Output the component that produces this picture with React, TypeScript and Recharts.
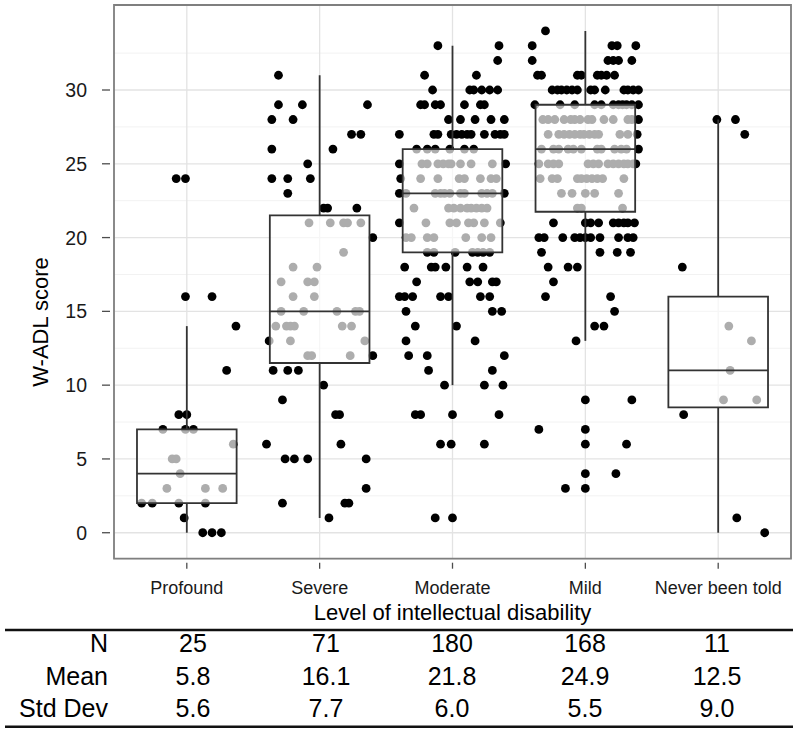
import { ComposedChart, Scatter, XAxis, YAxis, CartesianGrid, ReferenceArea, ReferenceLine } from 'recharts';

const FONT = '"Liberation Sans", Arial, Helvetica, sans-serif';

const categories = ['Profound', 'Severe', 'Moderate', 'Mild', 'Never been told'];

// each point: [jitter offset from the group position, W-ADL score]
const profoundPoints: [number, number][] = [
  [-0.08, 24], [-0.01, 24], [-0.01, 16], [0.19, 16], [0.37, 14], [0.3, 11],
  [-0.06, 8], [0.0, 8], [-0.18, 7], [-0.01, 7], [0.05, 7], [0.35, 6],
  [-0.11, 5], [-0.08, 5], [-0.05, 4], [-0.15, 3], [0.14, 3], [0.27, 3],
  [-0.34, 2], [-0.26, 2], [-0.06, 2], [0.14, 2], [-0.02, 1],
  [0.12, 0], [0.19, 0], [0.26, 0],
];

const severePoints: [number, number][] = [
  [-0.31, 31], [-0.31, 29], [-0.13, 29], [0.36, 29], [-0.36, 28], [-0.2, 28],
  [0.24, 27], [0.31, 27], [-0.36, 26], [0.1, 26], [-0.09, 25],
  [-0.36, 24], [-0.24, 24], [-0.07, 24], [-0.24, 23],
  [0.03, 22], [0.06, 22], [0.28, 22],
  [-0.08, 21], [0.08, 21], [0.18, 21], [0.21, 21], [0.31, 21],
  [0.4, 20], [0.18, 19], [-0.2, 18], [-0.02, 18],
  [-0.29, 17], [-0.09, 17], [-0.04, 17], [-0.2, 16], [-0.04, 16],
  [-0.29, 15], [-0.12, 15], [0.13, 15], [0.27, 15], [0.3, 15],
  [-0.33, 14], [-0.25, 14], [-0.22, 14], [-0.19, 14], [0.17, 14], [0.24, 14],
  [-0.38, 13], [-0.22, 13], [0.34, 13],
  [-0.09, 12], [-0.06, 12], [0.23, 12], [0.4, 12],
  [-0.35, 11], [-0.24, 11], [-0.16, 11], [0.03, 10], [-0.28, 9],
  [0.12, 8], [0.15, 8], [-0.4, 6], [0.16, 6],
  [-0.26, 5], [-0.19, 5], [-0.09, 5], [0.35, 5], [0.35, 3],
  [-0.28, 2], [0.19, 2], [0.22, 2], [0.07, 1],
];

const moderatePoints: [number, number][] = [
  [-0.11, 33], [0.35, 33], [0.34, 32], [-0.21, 31], [0.18, 31],
  [-0.15, 30], [0.13, 30], [0.16, 30], [0.22, 30], [0.28, 30], [0.34, 30],
  [-0.24, 29], [-0.21, 29], [-0.13, 29], [-0.09, 29], [0.09, 29], [0.21, 29], [0.24, 29],
  [-0.03, 28], [0.06, 28], [0.17, 28], [0.29, 28], [0.39, 28],
  [-0.4, 27], [-0.14, 27], [-0.11, 27], [-0.01, 27], [0.03, 27], [0.07, 27],
  [0.11, 27], [0.14, 27], [0.24, 27], [0.32, 27], [0.36, 27], [0.39, 27],
  [-0.27, 26], [-0.19, 26], [-0.13, 26], [-0.02, 26], [0.09, 26], [0.16, 26],
  [-0.4, 25], [-0.23, 25], [-0.19, 25], [-0.11, 25], [-0.07, 25], [-0.03, 25],
  [-0.01, 25], [0.06, 25], [0.14, 25], [0.3, 25], [0.4, 25],
  [-0.39, 24], [-0.24, 24], [-0.11, 24], [0.05, 24], [0.09, 24], [0.21, 24], [0.29, 24], [0.33, 24],
  [-0.4, 23], [-0.35, 23], [-0.13, 23], [-0.09, 23], [-0.06, 23], [-0.02, 23],
  [0.06, 23], [0.09, 23], [0.22, 23], [0.26, 23], [0.3, 23], [0.39, 23],
  [-0.29, 22], [-0.03, 22], [0.01, 22], [0.06, 22], [0.11, 22], [0.14, 22], [0.18, 22], [0.22, 22], [0.26, 22],
  [-0.4, 21], [-0.2, 21], [-0.02, 21], [0.03, 21], [0.12, 21], [0.16, 21], [0.24, 21], [0.36, 21],
  [-0.35, 20], [-0.31, 20], [-0.19, 20], [-0.14, 20], [0.1, 20], [0.22, 20], [0.29, 20],
  [-0.19, 19], [-0.14, 19], [0.02, 19], [0.15, 19], [0.19, 19], [0.23, 19], [0.28, 19],
  [-0.36, 18], [-0.16, 18], [-0.13, 18], [-0.05, 18], [0.11, 18], [0.23, 18],
  [-0.27, 17], [0.13, 17], [0.19, 17], [0.3, 17], [0.33, 17],
  [-0.4, 16], [-0.36, 16], [-0.3, 16], [-0.09, 16], [-0.03, 16], [0.21, 16], [0.28, 16],
  [-0.35, 15], [0.3, 15], [0.37, 15], [-0.28, 14], [0.03, 14],
  [-0.35, 13], [0.17, 13], [-0.33, 12], [-0.19, 12], [0.39, 12],
  [-0.18, 11], [0.3, 11], [-0.06, 10], [0.24, 10], [0.38, 10],
  [-0.28, 8], [-0.24, 8], [0.0, 8], [0.35, 8],
  [-0.09, 6], [-0.01, 6], [0.24, 6], [-0.13, 1], [0.0, 1],
];

const mildPoints: [number, number][] = [
  [-0.3, 34], [-0.4, 33], [0.2, 33], [0.24, 33], [0.38, 33],
  [-0.4, 32], [0.17, 32], [0.21, 32], [0.25, 32], [0.35, 32],
  [-0.36, 31], [-0.33, 31], [-0.06, 31], [-0.03, 31], [0.09, 31], [0.12, 31], [0.16, 31], [0.22, 31],
  [-0.25, 30], [-0.21, 30], [-0.18, 30], [-0.14, 30], [-0.1, 30], [-0.06, 30], [0.04, 30],
  [0.07, 30], [0.15, 30], [0.29, 30], [0.32, 30], [0.36, 30], [0.4, 30],
  [-0.38, 29], [-0.19, 29], [-0.08, 29], [0.07, 29], [0.12, 29], [0.21, 29],
  [0.25, 29], [0.28, 29], [0.31, 29], [0.35, 29], [0.4, 29],
  [-0.32, 28], [-0.28, 28], [-0.23, 28], [-0.16, 28], [-0.11, 28], [-0.08, 28], [-0.04, 28],
  [0.02, 28], [0.05, 28], [0.14, 28], [0.21, 28], [0.32, 28], [0.35, 28], [0.4, 28],
  [-0.28, 27], [-0.2, 27], [-0.16, 27], [-0.12, 27], [-0.08, 27], [-0.04, 27], [-0.01, 27],
  [0.03, 27], [0.07, 27], [0.1, 27], [0.26, 27], [0.32, 27], [0.39, 27],
  [-0.33, 26], [-0.24, 26], [-0.2, 26], [-0.13, 26], [-0.09, 26], [-0.03, 26],
  [0.09, 26], [0.12, 26], [0.22, 26], [0.27, 26], [0.31, 26], [0.4, 26],
  [-0.35, 25], [-0.28, 25], [-0.24, 25], [-0.2, 25], [0.02, 25], [0.06, 25], [0.1, 25],
  [0.17, 25], [0.21, 25], [0.25, 25], [0.29, 25], [0.32, 25], [0.36, 25], [0.38, 25],
  [-0.34, 24], [-0.25, 24], [-0.21, 24], [-0.06, 24], [-0.03, 24], [0.01, 24],
  [0.05, 24], [0.09, 24], [0.13, 24], [0.29, 24],
  [-0.18, 23], [-0.1, 23], [0.0, 23], [0.07, 23], [0.25, 23],
  [-0.06, 22], [-0.03, 22], [0.28, 22],
  [-0.24, 21], [0.0, 21], [0.04, 21], [0.1, 21], [0.21, 21], [0.25, 21], [0.29, 21], [0.32, 21], [0.37, 21],
  [-0.35, 20], [-0.31, 20], [-0.17, 20], [-0.08, 20], [-0.04, 20], [0.0, 20],
  [0.04, 20], [0.11, 20], [0.25, 20], [0.32, 20], [0.36, 20],
  [-0.33, 19], [0.11, 19], [0.24, 19], [0.34, 19],
  [-0.28, 18], [-0.13, 18], [-0.06, 18], [-0.24, 17], [-0.3, 16], [0.19, 16],
  [0.22, 15], [0.07, 14], [0.14, 14], [-0.07, 13],
  [0.0, 9], [0.35, 9], [-0.35, 7], [0.0, 7], [0.0, 6], [0.31, 6],
  [0.0, 4], [0.23, 4], [-0.15, 3], [0.0, 3],
];

const neverPoints: [number, number][] = [
  [-0.01, 28], [0.13, 28], [0.2, 27], [-0.27, 18], [0.08, 14], [0.25, 13],
  [0.09, 11], [0.04, 9], [0.29, 9], [-0.26, 8], [0.14, 1], [0.35, 0],
];

const groupPoints = [profoundPoints, severePoints, moderatePoints, mildPoints, neverPoints];

const boxQ1 = [2, 11.5, 19, 21.75, 8.5];
const boxMedian = [4, 15, 23, 26, 11];
const boxQ3 = [7, 21.5, 26, 29, 16];
const whiskerLow = [0, 1, 10, 13, 0];
const whiskerHigh = [14, 31, 33, 34, 28];

const yTicks = [0, 5, 10, 15, 20, 25, 30];
const yMinorTicks = [2.5, 7.5, 12.5, 17.5, 22.5, 27.5, 32.5];

const tableLabels = ['N', 'Mean', 'Std Dev'];
const nValues = ['25', '71', '180', '168', '11'];
const meanValues = ['5.8', '16.1', '21.8', '24.9', '12.5'];
const sdValues = ['5.6', '7.7', '6.0', '5.5', '9.0'];

const X_DOMAIN: [number, number] = [0.452, 5.548];
const Y_DOMAIN: [number, number] = [-1.76, 35.76];
const HALF_BOX = 0.375;

const points = groupPoints.flatMap((pts, i) => pts.map(([dx, y]) => ({ x: i + 1 + dx, y })));

const XTick = ({ x, y, payload }: any) => (
  <g>
    <line x1={x} x2={x} y1={y - 6} y2={y} stroke="#4d4d4d" strokeWidth={1.3} />
    <text x={x} y={y + 25} textAnchor="middle" fontSize={18} fontFamily={FONT} fill="#1a1a1a">
      {categories[payload.value - 1]}
    </text>
  </g>
);

const YTick = ({ x, y, payload }: any) => (
  <g>
    <line x1={x} x2={x + 8} y1={y} y2={y} stroke="#4d4d4d" strokeWidth={1.3} />
    <text x={x - 15} y={y + 7} textAnchor="end" fontSize={19.5} fontFamily={FONT} fill="#1a1a1a">
      {payload.value}
    </text>
  </g>
);

const PointDot = ({ cx, cy }: any) => <circle cx={cx} cy={cy} r={4.4} fill="#000" />;

const tableCols = [193, 326, 452, 585, 717];
const tableRows = [nValues, meanValues, sdValues];
const rowBaselines = [651.5, 684.5, 717];

export default function App() {
  return (
    <div style={{ position: 'absolute', left: 0, top: 0, width: 800, height: 735, background: '#fff' }}>
      <ComposedChart width={800} height={735} margin={{ top: 5, right: 9, bottom: 0, left: 0 }}>
        <CartesianGrid yAxisId="minor" vertical={false} stroke="#f2f2f2" strokeWidth={1} />
        <CartesianGrid stroke="#e3e3e3" strokeWidth={1.3} />
        <XAxis
          dataKey="x"
          type="number"
          domain={X_DOMAIN}
          ticks={[1, 2, 3, 4, 5]}
          allowDataOverflow
          height={176.3}
          axisLine={false}
          tickLine={false}
          tickSize={10}
          tickMargin={0}
          tick={XTick}
          interval={0}
        />
        <YAxis
          dataKey="y"
          type="number"
          domain={Y_DOMAIN}
          ticks={yTicks}
          allowDataOverflow
          width={114}
          axisLine={false}
          tickLine={false}
          tickSize={8}
          tickMargin={4}
          tick={YTick}
          interval={0}
        />
        <YAxis yAxisId="minor" hide type="number" domain={Y_DOMAIN} ticks={yMinorTicks} allowDataOverflow />
        <Scatter data={points} dataKey="y" isAnimationActive={false} shape={PointDot} />
        {categories.map((c, i) => (
          <ReferenceLine
            key={'wh' + c}
            segment={[{ x: i + 1, y: boxQ3[i] }, { x: i + 1, y: whiskerHigh[i] }]}
            stroke="#333"
            strokeWidth={1.8}
            zIndex={700}
          />
        ))}
        {categories.map((c, i) => (
          <ReferenceLine
            key={'wl' + c}
            segment={[{ x: i + 1, y: whiskerLow[i] }, { x: i + 1, y: boxQ1[i] }]}
            stroke="#333"
            strokeWidth={1.8}
            zIndex={700}
          />
        ))}
        {categories.map((c, i) => (
          <ReferenceArea
            key={'box' + c}
            x1={i + 1 - HALF_BOX}
            x2={i + 1 + HALF_BOX}
            y1={boxQ1[i]}
            y2={boxQ3[i]}
            fill="#fff"
            fillOpacity={0.68}
            stroke="#333"
            strokeWidth={1.8}
            zIndex={710}
          />
        ))}
        {categories.map((c, i) => (
          <ReferenceLine
            key={'med' + c}
            segment={[{ x: i + 1 - HALF_BOX, y: boxMedian[i] }, { x: i + 1 + HALF_BOX, y: boxMedian[i] }]}
            stroke="#333"
            strokeWidth={1.8}
            zIndex={720}
          />
        ))}
        <ReferenceArea
          x1={X_DOMAIN[0]}
          x2={X_DOMAIN[1]}
          y1={Y_DOMAIN[0]}
          y2={Y_DOMAIN[1]}
          fill="none"
          fillOpacity={0}
          stroke="#7f7f7f"
          strokeWidth={1.8}
          zIndex={800}
        />
      </ComposedChart>
      <svg width={800} height={735} style={{ position: 'absolute', left: 0, top: 0, pointerEvents: 'none' }}>
        <text x={452.5} y={620} textAnchor="middle" fontSize={22} fontFamily={FONT} fill="#000">
          Level of intellectual disability
        </text>
        <text
          x={0}
          y={0}
          transform="translate(48 322) rotate(-90)"
          textAnchor="middle"
          fontSize={22}
          fontFamily={FONT}
          fill="#000"
        >
          W-ADL score
        </text>
        <line x1={5} x2={793} y1={630} y2={630} stroke="#111" strokeWidth={2.4} />
        <line x1={5} x2={793} y1={726.7} y2={726.7} stroke="#111" strokeWidth={2.4} />
        {tableLabels.map((label, r) => (
          <g key={label}>
            <text x={108} y={rowBaselines[r]} textAnchor="end" fontSize={25} fontFamily={FONT} fill="#000">
              {label}
            </text>
            {tableRows[r].map((v, c) => (
              <text key={c} x={tableCols[c]} y={rowBaselines[r]} textAnchor="middle" fontSize={25} fontFamily={FONT} fill="#000">
                {v}
              </text>
            ))}
          </g>
        ))}
      </svg>
    </div>
  );
}
